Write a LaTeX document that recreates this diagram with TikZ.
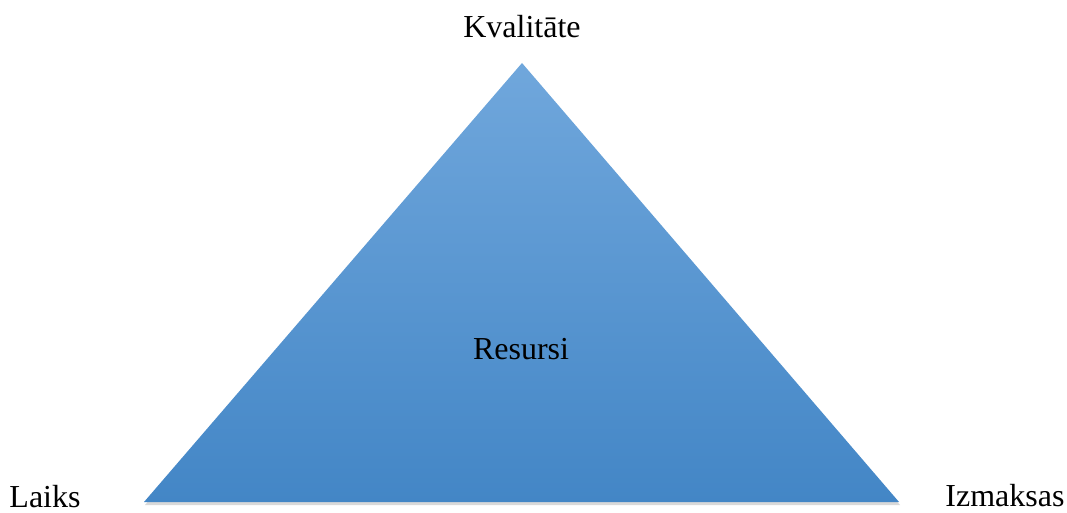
\documentclass[tikz,border=0pt]{standalone}
\usepackage{fontspec}
\setmainfont{Liberation Serif}
\usetikzlibrary{shadows}

\definecolor{topblue}{HTML}{70A7DC}
\definecolor{lowblue}{HTML}{4386C6}

\tikzset{
  lbl/.style={font=\fontsize{32}{37}\selectfont, inner sep=0pt},
}

\begin{document}
\begin{tikzpicture}[x=1pt, y=-1pt]
\useasboundingbox (0,0) rectangle (1067,513);

\coordinate (top) at (522,63);
\coordinate (left) at (144,502);
\coordinate (right) at (899,502);

\shade[top color=topblue, bottom color=lowblue,
  drop shadow={shadow xshift=1pt, shadow yshift=-3pt, opacity=0.3}]
  (top) -- (right) -- (left) -- cycle;

\node[lbl] (kval) at (522,27) {Kvalitāte};
\node[lbl] (res) at (521,349) {Resursi};
\node[lbl] (laiks) at (45,497) {Laiks};
\node[lbl] (izm) at (1005,496) {Izmaksas};

\end{tikzpicture}
\end{document}
